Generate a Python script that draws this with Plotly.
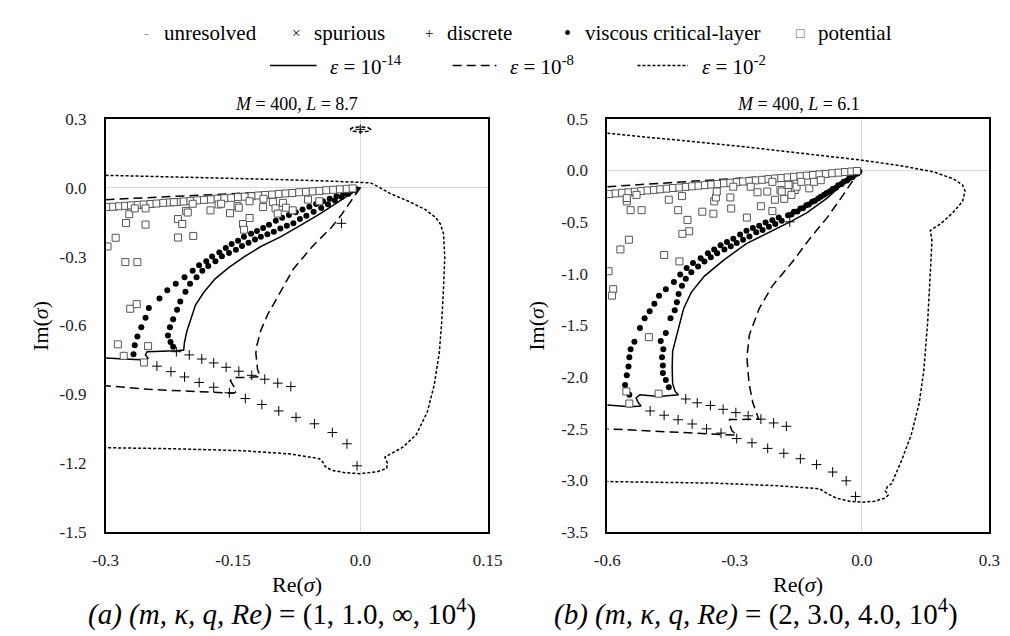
import plotly.graph_objects as go

FONT = "Liberation Serif, Times New Roman, serif"
W, H = 1010, 636

# ---------------- panel (a): M = 400, L = 8.7 ----------------
a_eps14_x = [0, -0.025, -0.048, -0.071, -0.094, -0.117, -0.136, -0.155, -0.171, -0.184, -0.194, -0.199,
             -0.204, -0.207, -0.208, -0.217, -0.236, -0.251, -0.253, -0.250, -0.254, -0.259, -0.278, -0.3,
             None, -0.3, 0]
a_eps14_y = [0, -0.059, -0.115, -0.165, -0.214, -0.256, -0.299, -0.348, -0.397, -0.454, -0.510, -0.566,
             -0.622, -0.672, -0.707, -0.710, -0.711, -0.714, -0.728, -0.742, -0.756, -0.749, -0.746, -0.742,
             None, -0.077, 0]

a_eps8_x = [-0.3, 0, None, 0, -0.009, -0.022, -0.034, -0.045, -0.057, -0.079, -0.094, -0.109, -0.117, -0.122,
            -0.123, -0.121, -0.118, -0.130, -0.150, -0.153, -0.149, -0.146, -0.149, -0.200, -0.250, -0.3]
a_eps8_y = [-0.052, 0, None, 0, -0.047, -0.117, -0.173, -0.215, -0.258, -0.355, -0.454, -0.552, -0.620, -0.690,
            -0.720, -0.790, -0.822, -0.826, -0.827, -0.840, -0.865, -0.887, -0.895, -0.888, -0.878, -0.862]
# small closed contour around the unstable eigenvalue
a_loop_x = [-0.012, -0.009, 0, 0.009, 0.012, 0.009, 0, -0.009, -0.012]
a_loop_y = [0.254, 0.262, 0.265, 0.262, 0.254, 0.246, 0.243, 0.246, 0.254]

a_eps2_x = [-0.3, -0.2, -0.1, -0.03, 0, 0.012, 0.022, 0.035, 0.058, 0.077, 0.089, 0.0945, 0.098, 0.0995,
            0.098, 0.096, 0.093, 0.087, 0.079, 0.066, 0.050, 0.035, 0.029, 0.032, 0.031, 0.020, 0, -0.018,
            -0.034, -0.041, -0.044, -0.048, -0.083, -0.140, -0.217, -0.3]
a_eps2_y = [0.054, 0.046, 0.036, 0.028, 0.024, 0.021, 0.003, -0.025, -0.061, -0.096, -0.131, -0.159, -0.200,
            -0.300, -0.440, -0.580, -0.720, -0.860, -0.976, -1.075, -1.130, -1.159, -1.173, -1.200, -1.222,
            -1.237, -1.245, -1.241, -1.230, -1.215, -1.195, -1.180, -1.159, -1.145, -1.137, -1.132]

a_viscous_x = [-0.005, -0.012, -0.020, -0.028, -0.036, -0.044, -0.052, -0.060, -0.068, -0.076, -0.084, -0.092,
               -0.0995, -0.1075, -0.1144, -0.1217, -0.1286, -0.137, -0.1439, -0.1515, -0.1584, -0.166, -0.1745,
               -0.1814, -0.1898, -0.1974, -0.207, -0.2173, -0.2273, -0.2365, -0.249, -0.2529, -0.2579, -0.2625,
               -0.2656, -0.2671,
               -0.006, -0.014, -0.022, -0.030, -0.038, -0.046, -0.055, -0.0635, -0.0711, -0.0788, -0.0865,
               -0.0941, -0.1018, -0.1094, -0.1171, -0.124, -0.1316, -0.1393, -0.1465, -0.1546, -0.163, -0.1706,
               -0.1791, -0.186, -0.1928, -0.2005, -0.2059, -0.212, -0.2158, -0.2204, -0.2242, -0.2265, -0.2235,
               -0.2204]
a_viscous_y = [-0.006, -0.015, -0.026, -0.037, -0.048, -0.059, -0.071, -0.083, -0.095, -0.107, -0.119, -0.131,
               -0.144, -0.161, -0.175, -0.189, -0.200, -0.214, -0.231, -0.245, -0.263, -0.282, -0.299, -0.320,
               -0.338, -0.362, -0.390, -0.418, -0.446, -0.482, -0.524, -0.566, -0.608, -0.648, -0.686, -0.725,
               -0.011, -0.026, -0.041, -0.056, -0.072, -0.088, -0.105, -0.1225, -0.1366, -0.155, -0.166,
               -0.1775, -0.1915, -0.2028, -0.214, -0.2254, -0.2394, -0.2535, -0.2704, -0.2845, -0.2986, -0.3197,
               -0.3408, -0.362, -0.390, -0.418, -0.4535, -0.4958, -0.531, -0.573, -0.608, -0.644, -0.672,
               -0.693]

a_discrete_x = [0, -0.0222, -0.2166, -0.2014, -0.1867, -0.1726, -0.158, -0.143, -0.1278, -0.1125, -0.0972,
                -0.0818, -0.2395, -0.223, -0.207, -0.1898, -0.1726, -0.1542, -0.1354, -0.1159, -0.096, -0.0757,
                -0.054, -0.0329, -0.0157, -0.0038]
a_discrete_y = [0.254, -0.155, -0.714, -0.728, -0.746, -0.763, -0.782, -0.799, -0.817, -0.834, -0.851, -0.866,
                -0.777, -0.801, -0.824, -0.848, -0.869, -0.893, -0.918, -0.944, -0.972, -1.000, -1.028, -1.066,
                -1.115, -1.211]

a_potential_x = [-0.298, -0.291, -0.284, -0.277, -0.270, -0.262, -0.255, -0.247, -0.240, -0.232, -0.224, -0.216,
                 -0.208, -0.200, -0.192, -0.184, -0.176, -0.168, -0.160, -0.152, -0.144, -0.136, -0.128, -0.120,
                 -0.112, -0.104, -0.096, -0.088, -0.080, -0.072, -0.064, -0.056, -0.048, -0.040, -0.032, -0.024,
                 -0.016, -0.009,
                 -0.2977, -0.2881, -0.2759, -0.2721, -0.2656, -0.2529, -0.2529, -0.2767, -0.2625, -0.2709,
                 -0.2633, -0.2855, -0.2786, -0.2499, -0.2548, -0.2147, -0.2097, -0.2051, -0.2032, -0.1967,
                 -0.2147, -0.1974, -0.2196, -0.1764, -0.1668, -0.1638, -0.1534, -0.1446, -0.1431, -0.1381,
                 -0.1369, -0.1304, -0.1304, -0.1144, -0.114, -0.1029, -0.0998, -0.0972, -0.0911, -0.0876,
                 -0.0796, -0.0616, -0.0482]
a_potential_y = [-0.084, -0.083, -0.081, -0.079, -0.077, -0.075, -0.073, -0.071, -0.069, -0.066, -0.064, -0.062,
                 -0.060, -0.058, -0.055, -0.053, -0.051, -0.048, -0.046, -0.044, -0.041, -0.039, -0.037, -0.034,
                 -0.032, -0.030, -0.027, -0.025, -0.023, -0.020, -0.018, -0.016, -0.014, -0.011, -0.009, -0.007,
                 -0.005, -0.003,
                 -0.256, -0.218, -0.1535, -0.1155, -0.090, -0.1606, -0.090, -0.324, -0.324, -0.527,
                 -0.507, -0.682, -0.732, -0.690, -0.761, -0.1366, -0.158, -0.101, -0.108, -0.210,
                 -0.217, -0.070, -0.063, -0.0986, -0.073, -0.070, -0.111, -0.080, -0.087, -0.158,
                 -0.183, -0.132, -0.059, -0.0845, -0.048, -0.062, -0.090, -0.1127, -0.066, -0.087,
                 -0.0986, -0.052, -0.059]

# ---------------- panel (b): M = 400, L = 6.1 ----------------
b_eps14_x = [0, -0.040, -0.082, -0.130, -0.166, -0.211, -0.272, -0.325, -0.371, -0.402, -0.420, -0.432,
             -0.440, -0.446, -0.447, -0.446, -0.440, -0.432, -0.478, -0.523, -0.532, -0.527, -0.520, -0.546,
             -0.6, None, -0.6, 0]
b_eps14_y = [0, -0.110, -0.267, -0.410, -0.490, -0.582, -0.708, -0.865, -1.022, -1.179, -1.336, -1.525,
             -1.651, -1.750, -1.903, -2.060, -2.138, -2.170, -2.186, -2.170, -2.200, -2.245, -2.280, -2.286,
             -2.270, None, -0.222, 0]

b_eps8_x = [-0.6, 0, None, 0, -0.0175, -0.044, -0.082, -0.120, -0.166, -0.211, -0.242, -0.265, -0.271, -0.266,
            -0.257, -0.246, -0.243, -0.270, -0.312, -0.312, -0.306, -0.295, -0.330, -0.450, -0.6]
b_eps8_y = [-0.157, 0, None, 0, -0.072, -0.236, -0.456, -0.645, -0.896, -1.116, -1.336, -1.588, -1.808, -2.060,
            -2.248, -2.374, -2.405, -2.408, -2.410, -2.450, -2.520, -2.560, -2.555, -2.530, -2.500]

b_eps2_x = [-0.6, -0.45, -0.3, -0.15, 0, 0.1, 0.17, 0.215, 0.237, 0.243, 0.237, 0.214, 0.184, 0.161, 0.165,
            0.161, 0.155, 0.146, 0.135, 0.116, 0.093, 0.070, 0.060, 0.055, 0.062, 0.055, 0.030, 0, -0.030,
            -0.060, -0.080, -0.100, -0.200, -0.350, -0.6]
b_eps2_y = [0.36, 0.30, 0.24, 0.17, 0.10, 0.04, -0.015, -0.08, -0.14, -0.20, -0.30, -0.41, -0.52, -0.58, -0.68,
            -1.00, -1.46, -1.93, -2.25, -2.56, -2.81, -3.03, -3.06, -3.10, -3.14, -3.17, -3.20, -3.21, -3.20,
            -3.17, -3.13, -3.08, -3.05, -3.025, -3.01]

b_viscous_x = [-0.006, -0.018, -0.030, -0.043, -0.056, -0.069, -0.083, -0.097, -0.111, -0.125, -0.139, -0.152,
               -0.166, -0.196, -0.211, -0.227, -0.242, -0.257, -0.272, -0.287, -0.303, -0.318, -0.333, -0.348,
               -0.363, -0.380, -0.398, -0.413, -0.428, -0.443, -0.462, -0.478, -0.489, -0.500, -0.512, -0.523,
               -0.536, -0.545, -0.548, -0.550, -0.554, -0.558, -0.548,
               -0.010, -0.022, -0.035, -0.048, -0.061, -0.075, -0.089, -0.103, -0.117, -0.131, -0.145, -0.160,
               -0.174, -0.189, -0.204, -0.219, -0.234, -0.249, -0.265, -0.280, -0.295, -0.309, -0.324, -0.341,
               -0.356, -0.371, -0.386, -0.402, -0.415, -0.424, -0.432, -0.436, -0.441, -0.451, -0.462, -0.474,
               -0.468, -0.471, -0.469, -0.469, -0.462, -0.455]
b_viscous_y = [-0.012, -0.042, -0.074, -0.108, -0.143, -0.180, -0.218, -0.255, -0.293, -0.330, -0.366, -0.398,
               -0.425, -0.456, -0.481, -0.503, -0.535, -0.557, -0.582, -0.619, -0.660, -0.692, -0.723, -0.764,
               -0.802, -0.849, -0.896, -0.943, -1.006, -1.079, -1.148, -1.211, -1.289, -1.362, -1.431, -1.525,
               -1.657, -1.730, -1.808, -1.896, -1.981, -2.075, -2.170,
               -0.030, -0.062, -0.097, -0.131, -0.166, -0.201, -0.236, -0.270, -0.303, -0.336, -0.368, -0.400,
               -0.433, -0.487, -0.519, -0.544, -0.575, -0.597, -0.638, -0.670, -0.701, -0.733, -0.764, -0.802,
               -0.840, -0.880, -0.928, -0.984, -1.047, -1.116, -1.195, -1.274, -1.352, -1.431, -1.572, -1.651,
               -1.730, -1.808, -1.887, -1.959, -2.028, -2.097]

b_discrete_x = [-0.170, -0.415, -0.388, -0.357, -0.327, -0.297, -0.268, -0.238, -0.208, -0.178,
                -0.499, -0.466, -0.433, -0.400, -0.366, -0.332, -0.295, -0.259, -0.222, -0.184, -0.145, -0.107,
                -0.069, -0.037, -0.015]
b_discrete_y = [-0.497, -2.211, -2.248, -2.274, -2.311, -2.343, -2.374, -2.406, -2.443, -2.475,
                -2.327, -2.368, -2.412, -2.453, -2.500, -2.541, -2.594, -2.635, -2.689, -2.736, -2.789, -2.846,
                -2.918, -3.003, -3.154]

b_potential_x = [-0.595, -0.580, -0.565, -0.550, -0.535, -0.520, -0.505, -0.490, -0.475, -0.460, -0.445, -0.430,
                 -0.415, -0.400, -0.385, -0.370, -0.355, -0.340, -0.325, -0.310, -0.295, -0.280, -0.265, -0.250,
                 -0.235, -0.220, -0.205, -0.190, -0.175, -0.160, -0.145, -0.130, -0.115, -0.100, -0.085, -0.070,
                 -0.055, -0.040, -0.025, -0.012,
                 -0.597, -0.586, -0.589, -0.569, -0.549, -0.545, -0.519, -0.554, -0.554, -0.531, -0.502, -0.466,
                 -0.455, -0.433, -0.424, -0.411, -0.407, -0.423, -0.430, -0.376, -0.350, -0.348, -0.344, -0.342,
                 -0.310, -0.308, -0.303, -0.271, -0.262, -0.246, -0.238, -0.223, -0.211, -0.205, -0.192, -0.183,
                 -0.170, -0.158, -0.154, -0.124, -0.113, -0.143, -0.211, -0.555, -0.548, -0.479, -0.189, -0.173,
                 -0.166, -0.097]
b_potential_y = [-0.228, -0.222, -0.216, -0.211, -0.205, -0.199, -0.193, -0.188, -0.182, -0.176, -0.170, -0.165,
                 -0.159, -0.153, -0.147, -0.142, -0.136, -0.130, -0.124, -0.119, -0.113, -0.107, -0.101, -0.096,
                 -0.090, -0.084, -0.078, -0.073, -0.067, -0.061, -0.055, -0.050, -0.044, -0.038, -0.033, -0.027,
                 -0.021, -0.015, -0.010, -0.005,
                 -0.975, -1.148, -1.211, -0.764, -0.670, -0.384, -0.384, -0.299, -0.267, -0.236, -1.613, -0.818,
                 -0.283, -0.384, -0.248, -0.478, -0.588, -0.613, -0.880, -0.399, -0.418, -0.299, -0.261, -0.204,
                 -0.261, -0.368, -0.157, -0.456, -0.157, -0.211, -0.346, -0.204, -0.393, -0.283, -0.189, -0.274,
                 -0.142, -0.189, -0.157, -0.173, -0.110, -0.110, -0.110, -2.138, -2.255, -2.160, -0.204, -0.140,
                 -0.236, -0.094]

a_ticks_x = [-0.3, -0.15, 0.0, 0.15]
a_ticks_x_text = ["-0.3", "-0.15", "0.0", "0.15"]
a_ticks_y = [0.3, 0.0, -0.3, -0.6, -0.9, -1.2, -1.5]
a_ticks_y_text = ["0.3", "0.0", "-0.3", "-0.6", "-0.9", "-1.2", "-1.5"]
b_ticks_x = [-0.6, -0.3, 0.0, 0.3]
b_ticks_x_text = ["-0.6", "-0.3", "0.0", "0.3"]
b_ticks_y = [0.5, 0.0, -0.5, -1.0, -1.5, -2.0, -2.5, -3.0, -3.5]
b_ticks_y_text = ["0.5", "0.0", "-0.5", "-1.0", "-1.5", "-2.0", "-2.5", "-3.0", "-3.5"]

# legend entries (drawn by hand so the spacing follows the original)
marker_names = ["unresolved", "spurious", "discrete", "viscous critical-layer", "potential"]
marker_glyphs = ["-", "×", "+", "•", "□"]
marker_colors = ["#9a9a9a", "black", "black", "black", "#555555"]
marker_sizes = [15, 15, 15, 20, 14]
line_names = ["<i>ε</i> = 10<sup>-14</sup>", "<i>ε</i> = 10<sup>-8</sup>", "<i>ε</i> = 10<sup>-2</sup>"]

DASH = {"eps14": "solid", "eps8": "9px,5px", "eps2": "3px,2px"}


def addPanel(fig, xref, yref, lines, viscous, discrete, potential):
    for key, (x, y) in lines.items():
        fig.add_trace(go.Scatter(x=x, y=y, mode="lines", xaxis=xref, yaxis=yref, showlegend=False,
                                 line=dict(color="black", width=1.5, dash=DASH[key])))
    fig.add_trace(go.Scatter(x=discrete[0], y=discrete[1], mode="markers", xaxis=xref, yaxis=yref,
                             showlegend=False,
                             marker=dict(symbol="cross-thin", size=7, color="black",
                                         line=dict(color="black", width=1))))
    fig.add_trace(go.Scatter(x=viscous[0], y=viscous[1], mode="markers", xaxis=xref, yaxis=yref,
                             showlegend=False, marker=dict(symbol="circle", size=6, color="black")))
    fig.add_trace(go.Scatter(x=potential[0], y=potential[1], mode="markers", xaxis=xref, yaxis=yref,
                             showlegend=False,
                             marker=dict(symbol="square", size=7, color="white",
                                         line=dict(color="#555555", width=1))))


fig = go.Figure()
addPanel(fig, "x", "y",
         {"eps14": (a_eps14_x, a_eps14_y), "eps8": (a_eps8_x, a_eps8_y), "eps2": (a_eps2_x, a_eps2_y)},
         (a_viscous_x, a_viscous_y), (a_discrete_x, a_discrete_y), (a_potential_x, a_potential_y))
fig.add_trace(go.Scatter(x=a_loop_x, y=a_loop_y, mode="lines", xaxis="x", yaxis="y", showlegend=False,
                         line=dict(color="black", width=1.5, dash="4px,2px")))
addPanel(fig, "x2", "y2",
         {"eps14": (b_eps14_x, b_eps14_y), "eps8": (b_eps8_x, b_eps8_y), "eps2": (b_eps2_x, b_eps2_y)},
         (b_viscous_x, b_viscous_y), (b_discrete_x, b_discrete_y), (b_potential_x, b_potential_y))

axis_common = dict(showgrid=False, zeroline=True, zerolinecolor="#d9d9d9", zerolinewidth=1,
                   showline=True, linecolor="black", linewidth=1.5, mirror=True, ticks="",
                   tickfont=dict(family=FONT, size=17, color="#222222"))

fig.update_layout(
    width=W, height=H,
    margin=dict(l=0, r=0, t=0, b=0),
    plot_bgcolor="white", paper_bgcolor="white",
    font=dict(family=FONT, color="black"),
    showlegend=False,
    xaxis=dict(domain=[0.0861, 0.4752], range=[-0.3, 0.15], anchor="y",
               tickvals=a_ticks_x, ticktext=a_ticks_x_text, ticklabelstandoff=12, **axis_common),
    yaxis=dict(domain=[0.165, 0.835], range=[-1.5, 0.3], anchor="x",
               tickvals=a_ticks_y, ticktext=a_ticks_y_text, ticklabelstandoff=14, **axis_common),
    xaxis2=dict(domain=[0.597, 0.986], range=[-0.6, 0.3], anchor="y2",
                tickvals=b_ticks_x, ticktext=b_ticks_x_text, ticklabelstandoff=12, **axis_common),
    yaxis2=dict(domain=[0.165, 0.835], range=[-3.5, 0.5], anchor="x2",
                tickvals=b_ticks_y, ticktext=b_ticks_y_text, ticklabelstandoff=14, **axis_common),
)


def px(x):
    return x / W


def py(y):
    return 1 - y / H


# legend row 1: marker types
for i, xs in enumerate([129, 283, 420, 562, 802]):
    fig.add_annotation(text=marker_glyphs[i], x=px(xs), y=py(17), xref="paper", yref="paper", showarrow=False,
                       xanchor="center", yanchor="middle",
                       font=dict(family=FONT, size=marker_sizes[i], color=marker_colors[i]))
    fig.add_annotation(text=marker_names[i], x=px(xs + 16), y=py(17), xref="paper", yref="paper",
                       showarrow=False, xanchor="left", yanchor="middle",
                       font=dict(family=FONT, size=21, color="black"))

# legend row 2: contour levels
for i, (x0, x1) in enumerate([(256, 304), (444, 489), (634, 686)]):
    fig.add_shape(type="line", x0=px(x0), x1=px(x1), y0=py(50), y1=py(50), xref="paper", yref="paper",
                  line=dict(color="black", width=1.6, dash=list(DASH.values())[i]))
    fig.add_annotation(text=line_names[i], x=px(x1 + 12), y=py(50), xref="paper", yref="paper",
                       showarrow=False, xanchor="left", yanchor="middle",
                       font=dict(family=FONT, size=21, color="black"))

ann = [
    dict(text="<i>M</i> = 400, <i>L</i> = 8.7", x=283.5, y=90, size=18),
    dict(text="<i>M</i> = 400, <i>L</i> = 6.1", x=799.5, y=90, size=18),
    dict(text="Re(<i>σ</i>)", x=283.5, y=585, size=22),
    dict(text="Re(<i>σ</i>)", x=799.5, y=585, size=22),
    dict(text="<i>(a) (m, κ, q, Re)</i> = (1, 1.0, ∞, 10<sup>4</sup>)", x=268, y=614, size=29),
    dict(text="<i>(b) (m, κ, q, Re)</i> = (2, 3.0, 4.0, 10<sup>4</sup>)", x=756, y=614, size=29),
]
for a in ann:
    fig.add_annotation(text=a["text"], x=px(a["x"]), y=py(a["y"]), xref="paper", yref="paper", showarrow=False,
                       xanchor="center", yanchor="middle", font=dict(family=FONT, size=a["size"], color="black"))
for xpos in [20, 530]:
    fig.add_annotation(text="Im(<i>σ</i>)", x=px(xpos), y=py(318), xref="paper", yref="paper", showarrow=False,
                       textangle=-90, xanchor="center", yanchor="middle",
                       font=dict(family=FONT, size=22, color="black"))

fig.write_html("out.html")
